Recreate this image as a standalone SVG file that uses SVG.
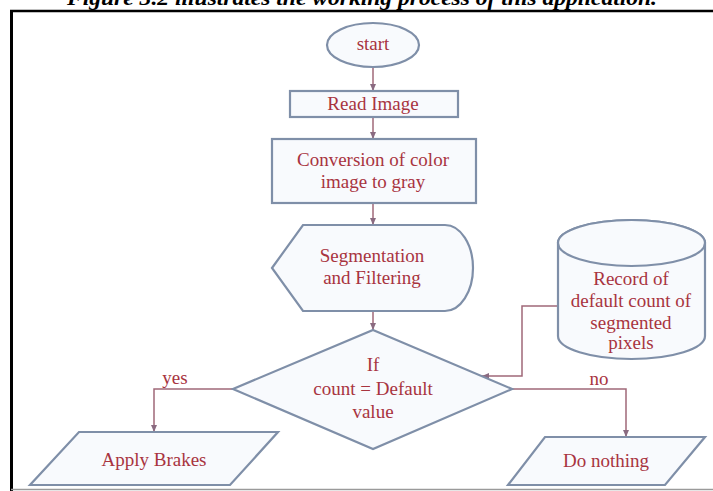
<svg xmlns="http://www.w3.org/2000/svg" width="713" height="491" viewBox="0 0 713 491">
<style>
.shape{fill:#f8fafd;stroke:#7f8fa8;stroke-width:2.2}
.lbl{font-family:"Liberation Serif","Times New Roman",serif;font-size:19px;fill:#a8343f;text-anchor:middle}
.conn{fill:none;stroke:#a06878;stroke-width:1.5}
.cap{font-family:"Liberation Serif","Times New Roman",serif;font-size:20px;font-weight:bold;font-style:italic;fill:#000}
</style>
<defs>
<marker id="ah" markerWidth="8" markerHeight="8" refX="7" refY="4" orient="auto" markerUnits="userSpaceOnUse">
<path d="M0,1 L7,4 L0,7 z" fill="#8a6a80"/>
</marker>
</defs>
<rect x="0" y="0" width="713" height="491" fill="#ffffff"/>
<text class="cap" x="362" y="5" textLength="590" lengthAdjust="spacingAndGlyphs" text-anchor="middle">Figure 3.2 illustrates the working process of this application.</text>
<g id="frame">
<line x1="10" y1="11" x2="713" y2="11" stroke="#000" stroke-width="2.5"/>
<line x1="11.5" y1="10" x2="11.5" y2="491" stroke="#000" stroke-width="3"/>
<line x1="11" y1="489.5" x2="713" y2="489.5" stroke="#9a9a9a" stroke-width="1.5"/>
</g>
<g id="connectors">
<path class="conn" d="M373,67 V91" marker-end="url(#ah)"/>
<path class="conn" d="M373,117 V139" marker-end="url(#ah)"/>
<path class="conn" d="M373,203 V225" marker-end="url(#ah)"/>
<path class="conn" d="M373,311 V330" marker-end="url(#ah)"/>
<path class="conn" d="M558,306 H522 V376 H482" marker-end="url(#ah)"/>
<path class="conn" d="M233,389 H154 V432" marker-end="url(#ah)"/>
<path class="conn" d="M512,389 H626 V437" marker-end="url(#ah)"/>
<text class="lbl" x="175" y="384">yes</text>
<text class="lbl" x="599" y="385">no</text>
</g>
<g id="start">
<ellipse class="shape" cx="373" cy="45" rx="46" ry="22"/>
<text class="lbl" x="373" y="50">start</text>
</g>
<g id="read-image">
<rect class="shape" x="290" y="91" width="168" height="26"/>
<text class="lbl" x="373" y="110">Read Image</text>
</g>
<g id="conversion">
<rect class="shape" x="272" y="139" width="204" height="64"/>
<text class="lbl" x="373" y="166">Conversion of color</text>
<text class="lbl" x="373" y="188">image to gray</text>
</g>
<g id="segmentation">
<path class="shape" d="M272,268 L303,225 H445 A28,43 0 0,1 445,311 H303 Z"/>
<text class="lbl" x="372" y="262">Segmentation</text>
<text class="lbl" x="372" y="284">and Filtering</text>
</g>
<g id="record">
<path class="shape" d="M558,243 A73.5,23 0 0,1 705,243 V336 A73.5,23 0 0,1 558,336 Z"/>
<ellipse class="shape" cx="631.5" cy="243" rx="73.5" ry="23"/>
<text class="lbl" x="631" y="285">Record of</text>
<text class="lbl" x="631" y="307">default count of</text>
<text class="lbl" x="631" y="329">segmented</text>
<text class="lbl" x="631" y="349">pixels</text>
</g>
<g id="decision">
<path class="shape" d="M373,330 L512,389 L373,449 L233,389 Z"/>
<text class="lbl" x="373" y="371">If</text>
<text class="lbl" x="373" y="395">count = Default</text>
<text class="lbl" x="373" y="418">value</text>
</g>
<g id="apply-brakes">
<path class="shape" d="M79,432 H278 L230,485 H30 Z"/>
<text class="lbl" x="154" y="466">Apply Brakes</text>
</g>
<g id="do-nothing">
<path class="shape" d="M545,437 H705 L665,485 H508 Z"/>
<text class="lbl" x="606" y="467">Do nothing</text>
</g>
</svg>
